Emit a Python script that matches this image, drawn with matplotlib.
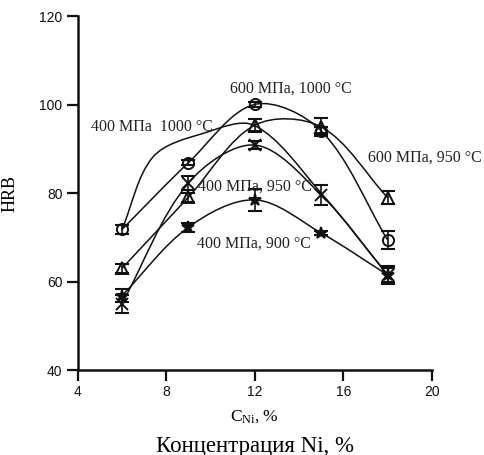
import numpy as np
import matplotlib
matplotlib.use("Agg")
import matplotlib.pyplot as plt
from matplotlib.path import Path
from matplotlib.patches import PathPatch

plt.rcParams['font.family'] = ['Liberation Serif', 'DejaVu Serif']
plt.rcParams['mathtext.fontset'] = 'custom'
plt.rcParams['mathtext.rm'] = 'Liberation Serif'
plt.rcParams['mathtext.it'] = 'Liberation Serif:italic'

# Ni concentration, %
ni = [6, 9, 12, 15, 18]

# HRB values
hrb_600_1000 = [71.8, 86.9, 100.1, 94.1, 69.4]
err_600_1000 = [1.0, 0.6, 0.6, 1.0, 2.0]
hrb_600_950 = [63.0, 79.1, 95.4, 95.0, 79.0]
err_600_950 = [1.0, 1.0, 1.5, 2.0, 1.5]
hrb_400_950 = [55.0, 82.3, 90.9, 79.6, 61.5]
err_400_950 = [2.0, 1.5, 1.0, 2.2, 2.0]
hrb_400_900 = [56.8, 72.3, 78.5, 71.0, 61.5]
err_400_900 = [1.5, 1.0, 2.5, 0.5, 1.5]
# curve without own markers (400 MPa, 1000 C)
ni_400_1000 = [6, 7.4, 9.7, 12, 15, 18]
hrb_400_1000 = [71.8, 88.2, 93.6, 95.3, 80.0, 61.5]

labels = ["600 МПа, 1000 °C", "400 МПа  1000 °C", "400 МПа, 950 °C",
          "600 МПа, 950 °C", "400 МПа, 900 °C"]
label_xy = [(10.9, 103.6), (4.6, 95.0), (9.45, 81.4), (17.1, 88.0), (9.4, 68.7)]


def smooth_path(x, y):
    # chord-length Catmull-Rom through the points, as cubic Bezier segments
    pts = np.column_stack([np.asarray(x, float), np.asarray(y, float)])
    scale = np.array([22.1, 4.42])  # rough pixel size of one unit
    d = np.linalg.norm(np.diff(pts, axis=0) * scale, axis=1)
    t = np.r_[0, np.cumsum(d)]
    n = len(pts)
    m = np.zeros_like(pts)
    m[0] = (pts[1] - pts[0]) / (t[1] - t[0])
    m[-1] = (pts[-1] - pts[-2]) / (t[-1] - t[-2])
    for i in range(1, n - 1):
        m[i] = (pts[i + 1] - pts[i - 1]) / (t[i + 1] - t[i - 1])
    verts = [tuple(pts[0])]
    codes = [Path.MOVETO]
    for i in range(n - 1):
        h = t[i + 1] - t[i]
        verts += [tuple(pts[i] + m[i] * h / 3), tuple(pts[i + 1] - m[i + 1] * h / 3),
                  tuple(pts[i + 1])]
        codes += [Path.CURVE4] * 3
    return Path(verts, codes)


fig = plt.figure(figsize=(4.84, 4.55), dpi=100)
ax = fig.add_axes([0.1605, 0.1868, 0.732, 0.777])

series = [
    (ni, hrb_600_1000, err_600_1000, dict(marker='o', mfc='none', ms=8)),
    (ni, hrb_600_950, err_600_950, dict(marker='^', mfc='none', ms=8)),
    (ni, hrb_400_950, err_400_950, dict(marker='x', ms=8)),
    (ni, hrb_400_900, err_400_900, dict(marker='*', mfc='#111111', ms=9)),
]

for xs, ys, es, mk in series:
    ax.add_patch(PathPatch(smooth_path(xs, ys), fill=False, ec='#111111', lw=1.1))
    ax.errorbar(xs, ys, yerr=es, fmt='none', ecolor='#111111', elinewidth=1.2,
                capsize=5, capthick=1.5)
    ax.plot(xs, ys, ls='none', color='#111111', mew=1.4, **mk)

ax.add_patch(PathPatch(smooth_path(ni_400_1000, hrb_400_1000), fill=False,
                       ec='#111111', lw=1.1))

for txt, (tx, ty) in zip(labels, label_xy):
    ax.text(tx, ty, txt, fontsize=11.5, va='center', ha='left', color='#222222')

ax.set_xlim(4, 20)
ax.set_ylim(40, 120)
ax.set_xticks([4, 8, 12, 16, 20])
ax.set_yticks([40, 60, 80, 100, 120])
for lab in ax.get_xticklabels() + ax.get_yticklabels():
    lab.set_fontfamily('Liberation Sans')
    lab.set_fontsize(10)
ax.tick_params(direction='out', length=8, width=1.6, colors='#111111', pad=3)
for s in ['top', 'right']:
    ax.spines[s].set_visible(False)
for s in ['left', 'bottom']:
    ax.spines[s].set_linewidth(1.8)
    ax.spines[s].set_color('#111111')

ax.set_ylabel("HRB", fontsize=13)
ax.yaxis.set_label_coords(-0.166, 0.5)
ax.text(0.5, -0.133, r"C$_{\mathrm{Ni}}$, %", transform=ax.transAxes,
        ha='center', va='center', fontsize=12.5)
ax.text(0.5, -0.215, "Концентрация Ni, %", transform=ax.transAxes,
        ha='center', va='center', fontsize=16.5)

fig.savefig("out.png", dpi=100)
